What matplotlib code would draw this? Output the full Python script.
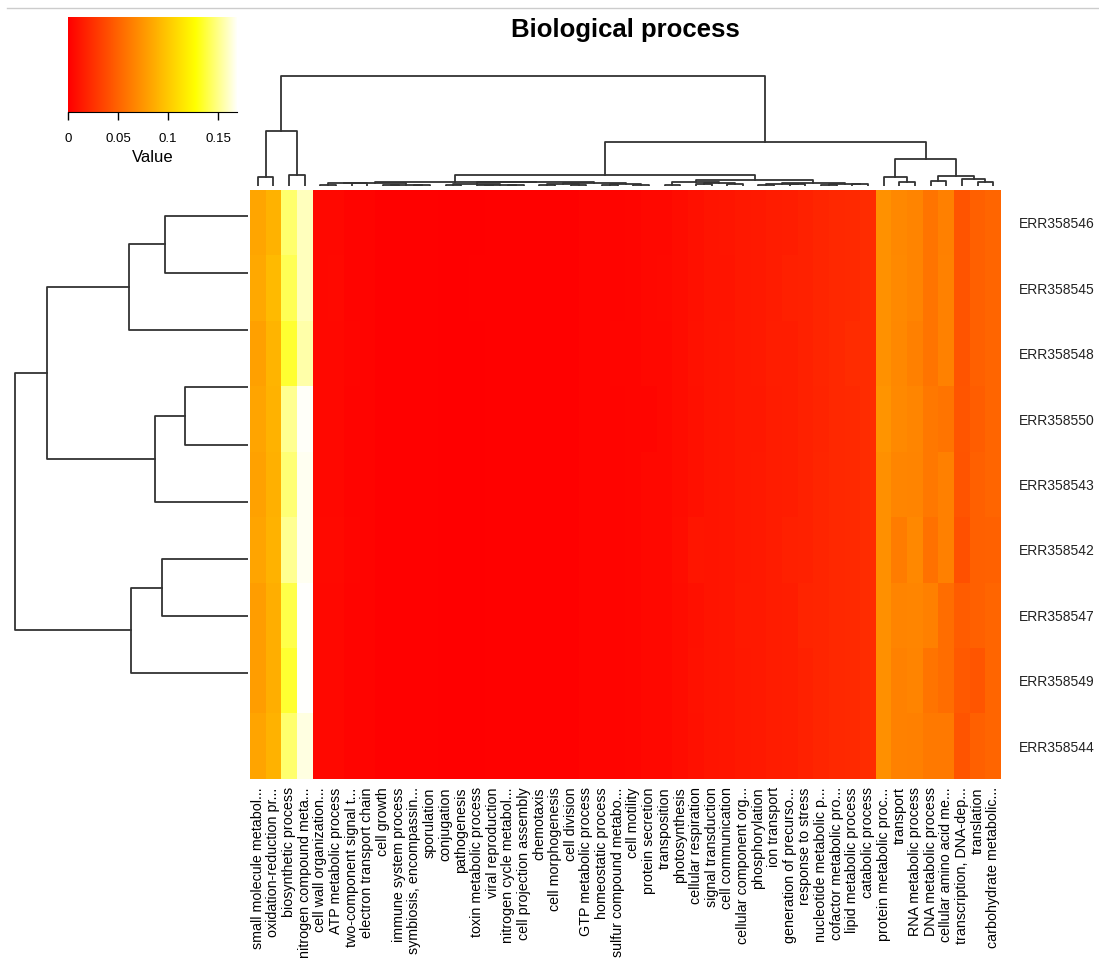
import matplotlib
matplotlib.use("Agg")
import matplotlib.pyplot as plt
import numpy as np
from matplotlib.colors import ListedColormap

plt.rcParams['font.family'] = ['Liberation Sans', 'DejaVu Sans']

# sample names (rows, top to bottom) and GO terms (columns, left to right)
samples = ['ERR358546', 'ERR358545', 'ERR358548', 'ERR358550', 'ERR358543',
           'ERR358542', 'ERR358547', 'ERR358549', 'ERR358544']

terms = ['small molecule metabol...', 'oxidation-reduction pr...', 'biosynthetic process',
         'nitrogen compound meta...', 'cell wall organization...', 'ATP metabolic process',
         'two-component signal t...', 'electron transport chain', 'cell growth',
         'immune system process', 'symbiosis, encompassin...', 'sporulation',
         'conjugation', 'pathogenesis', 'toxin metabolic process', 'viral reproduction',
         'nitrogen cycle metabol...', 'cell projection assembly', 'chemotaxis',
         'cell morphogenesis', 'cell division', 'GTP metabolic process',
         'homeostatic process', 'sulfur compound metabo...', 'cell motility',
         'protein secretion', 'transposition', 'photosynthesis', 'cellular respiration',
         'signal transduction', 'cell communication', 'cellular component org...',
         'phosphorylation', 'ion transport', 'generation of precurso...',
         'response to stress', 'nucleotide metabolic p...', 'cofactor metabolic pro...',
         'lipid metabolic process', 'catabolic process', 'protein metabolic proc...',
         'transport', 'RNA metabolic process', 'DNA metabolic process',
         'cellular amino acid me...', 'transcription, DNA-dep...', 'translation',
         'carbohydrate metabolic...']

# relative abundance, one list per sample
r546 = [0.083, 0.089, 0.146, 0.159, 0.004, 0.004, 0.002, 0.002, 0.001, 0.001, 0.001, 0.001,
        0.000, 0.000, 0.000, 0.001, 0.001, 0.001, 0.001, 0.001, 0.001, 0.002, 0.002, 0.002,
        0.003, 0.004, 0.004, 0.006, 0.008, 0.010, 0.011, 0.012, 0.013, 0.014, 0.015, 0.017,
        0.019, 0.020, 0.021, 0.022, 0.073, 0.068, 0.066, 0.058, 0.064, 0.042, 0.048, 0.051]
r545 = [0.084, 0.093, 0.142, 0.159, 0.004, 0.005, 0.002, 0.002, 0.001, 0.001, 0.001, 0.001,
        0.000, 0.000, 0.001, 0.001, 0.001, 0.001, 0.001, 0.001, 0.001, 0.002, 0.002, 0.002,
        0.003, 0.004, 0.005, 0.006, 0.008, 0.010, 0.010, 0.012, 0.013, 0.014, 0.016, 0.017,
        0.019, 0.020, 0.021, 0.022, 0.073, 0.069, 0.066, 0.058, 0.065, 0.042, 0.048, 0.051]
r548 = [0.080, 0.090, 0.136, 0.156, 0.004, 0.004, 0.003, 0.002, 0.001, 0.001, 0.001, 0.001,
        0.000, 0.000, 0.000, 0.001, 0.001, 0.001, 0.001, 0.001, 0.001, 0.002, 0.002, 0.003,
        0.003, 0.004, 0.004, 0.006, 0.009, 0.010, 0.011, 0.012, 0.013, 0.015, 0.015, 0.017,
        0.019, 0.020, 0.022, 0.022, 0.073, 0.068, 0.064, 0.058, 0.065, 0.042, 0.048, 0.051]
r550 = [0.082, 0.089, 0.152, 0.169, 0.004, 0.004, 0.002, 0.002, 0.001, 0.001, 0.001, 0.001,
        0.000, 0.000, 0.000, 0.001, 0.001, 0.001, 0.001, 0.001, 0.001, 0.002, 0.002, 0.002,
        0.003, 0.003, 0.004, 0.006, 0.008, 0.010, 0.011, 0.012, 0.012, 0.014, 0.015, 0.017,
        0.018, 0.020, 0.021, 0.022, 0.074, 0.069, 0.067, 0.060, 0.058, 0.043, 0.047, 0.051]
r543 = [0.081, 0.088, 0.147, 0.168, 0.004, 0.004, 0.002, 0.002, 0.001, 0.001, 0.001, 0.001,
        0.000, 0.000, 0.000, 0.001, 0.001, 0.001, 0.001, 0.001, 0.001, 0.002, 0.002, 0.002,
        0.003, 0.004, 0.004, 0.006, 0.008, 0.010, 0.011, 0.012, 0.013, 0.014, 0.015, 0.017,
        0.019, 0.020, 0.021, 0.022, 0.072, 0.067, 0.066, 0.060, 0.064, 0.042, 0.048, 0.051]
r542 = [0.082, 0.089, 0.152, 0.168, 0.005, 0.005, 0.003, 0.002, 0.001, 0.001, 0.001, 0.001,
        0.000, 0.000, 0.000, 0.001, 0.001, 0.001, 0.001, 0.001, 0.001, 0.002, 0.002, 0.002,
        0.003, 0.004, 0.004, 0.007, 0.011, 0.010, 0.011, 0.012, 0.013, 0.014, 0.016, 0.017,
        0.019, 0.020, 0.021, 0.022, 0.072, 0.062, 0.068, 0.057, 0.064, 0.040, 0.048, 0.049]
r547 = [0.079, 0.087, 0.140, 0.170, 0.004, 0.004, 0.002, 0.002, 0.001, 0.001, 0.001, 0.001,
        0.000, 0.000, 0.000, 0.001, 0.001, 0.001, 0.001, 0.001, 0.001, 0.002, 0.002, 0.002,
        0.003, 0.004, 0.004, 0.006, 0.008, 0.010, 0.011, 0.013, 0.013, 0.014, 0.015, 0.018,
        0.019, 0.020, 0.021, 0.022, 0.072, 0.066, 0.067, 0.064, 0.055, 0.046, 0.048, 0.051]
r549 = [0.079, 0.087, 0.136, 0.170, 0.004, 0.004, 0.002, 0.002, 0.001, 0.001, 0.001, 0.001,
        0.000, 0.000, 0.000, 0.001, 0.001, 0.001, 0.001, 0.001, 0.001, 0.002, 0.002, 0.002,
        0.003, 0.004, 0.004, 0.006, 0.009, 0.010, 0.011, 0.012, 0.013, 0.014, 0.015, 0.017,
        0.019, 0.020, 0.021, 0.022, 0.072, 0.065, 0.066, 0.058, 0.055, 0.045, 0.043, 0.051]
r544 = [0.082, 0.089, 0.146, 0.165, 0.004, 0.004, 0.002, 0.002, 0.001, 0.001, 0.001, 0.001,
        0.000, 0.000, 0.000, 0.001, 0.001, 0.001, 0.001, 0.001, 0.001, 0.002, 0.002, 0.002,
        0.003, 0.004, 0.004, 0.006, 0.008, 0.010, 0.011, 0.012, 0.013, 0.014, 0.015, 0.017,
        0.019, 0.020, 0.021, 0.022, 0.072, 0.065, 0.064, 0.061, 0.061, 0.042, 0.048, 0.051]

vmax = 0.17

# column dendrogram pieces: (left, right, height), leaves are column indices
grp_a = (((4, 5, 1.2), (6, 7, 2.6), 3.0), ((8, 9, 0.8), (10, 11, 1.0), 1.4), 3.5)
grp_b1 = ((12, 13, 1.0), ((14, 15, 0.6), (16, 17, 0.8), 1.2), 1.8)
grp_b2 = (((18, 19, 0.7), (20, 21, 0.9), 1.6), ((22, 23, 1.0), (24, 25, 1.3), 2.0), 2.6)
grp_l = (grp_a, (grp_b1, grp_b2, 3.8), 4.2)
grp_r1 = ((26, 27, 1.5), ((28, 29, 1.8), (30, 31, 2.2), 3.0), 3.8)
grp_r2 = (((32, 33, 1.4), (34, 35, 2.0), 2.4), ((36, 37, 1.2), (38, 39, 1.6), 2.2), 2.8)
grp_red = (grp_l, (grp_r1, grp_r2, 6.5), 11)
grp_orange = ((40, (41, 42, 4), 9), ((43, 44, 5), (45, (46, 47, 4), 7), 10), 27)
grp_left = ((0, 1, 9), (2, 3, 11), 55)
col_tree = (grp_left, (grp_red, grp_orange, 44), 110)

# row dendrogram, leaves are row indices
row_tree = ((((0, 1, 83), 2, 119), ((3, 4, 63), 5, 93), 201),
            ((6, 7, 86), 8, 117),
            233)


def draw_tree(ax, node, vertical=True):
    # returns (position, height) of node, draws its links
    if isinstance(node, int):
        return node + 0.5, 0
    l, r, h = node
    pl, hl = draw_tree(ax, l, vertical)
    pr, hr = draw_tree(ax, r, vertical)
    if vertical:
        ax.plot([pl, pl, pr, pr], [hl, h, h, hr], color='#333333', lw=1.3)
    else:
        ax.plot([hl, h, h, hr], [pl, pl, pr, pr], color='#333333', lw=1.3)
    return (pl + pr) / 2, h


# R heat.colors palette
n = 256
j = n // 4
i = n - j
cols = [(1, k / (i - 1), 0) for k in range(i)]
for s in np.linspace(1 - 1 / (2 * j), 1 / (2 * j), j):
    cols.append((1, 1, 1 - s))
heat = ListedColormap(cols)

W, H = 1099, 969
fig = plt.figure(figsize=(W / 100, H / 100), dpi=100)


def box(x0, y0, x1, y1):
    return [x0 / W, 1 - y1 / H, (x1 - x0) / W, (y1 - y0) / H]


data = np.array([r546, r545, r548, r550, r543, r542, r547, r549, r544])

# heatmap
ax = fig.add_axes(box(250, 190, 1001, 779))
ax.imshow(data, cmap=heat, vmin=0, vmax=vmax, aspect='auto', interpolation='nearest',
          extent=[0, len(terms), len(samples), 0])
ax.set_xticks(np.arange(len(terms)) + 0.5)
ax.set_xticklabels(terms, rotation=90, fontsize=10.3)
ax.yaxis.tick_right()
ax.set_yticks(np.arange(len(samples)) + 0.5)
ax.set_yticklabels(samples, fontsize=10, color='#222222')
ax.tick_params(length=0)
ax.tick_params(axis='x', pad=6)
ax.tick_params(axis='y', pad=13)
for sp in ax.spines.values():
    sp.set_visible(False)

# column dendrogram
axc = fig.add_axes(box(250, 70, 1001, 186))
draw_tree(axc, col_tree, vertical=True)
axc.set_xlim(0, len(terms))
axc.set_ylim(0, 116)
axc.axis('off')

# row dendrogram
axr = fig.add_axes(box(10, 187, 248, 702))
draw_tree(axr, row_tree, vertical=False)
axr.set_xlim(238, 0)
axr.set_ylim(len(samples), 0)
axr.axis('off')

# colour key
axk = fig.add_axes(box(68, 17, 237, 112))
axk.imshow(np.linspace(0, 0.169, 256)[None, :], cmap=heat, vmin=0, vmax=vmax,
           aspect='auto', extent=[0, 0.169, 0, 1])
axk.set_xlim(0, 0.169)
axk.set_yticks([])
axk.set_xticks([0, 0.05, 0.1, 0.15])
axk.set_xticklabels(['0', '0.05', '0.1', '0.15'], fontsize=9.5)
axk.tick_params(axis='x', length=6, width=1, pad=9)
axk.set_xlabel('Value', fontsize=12, labelpad=4)
for s in ['top', 'left', 'right']:
    axk.spines[s].set_visible(False)

fig.text(625 / W, 1 - 30 / H, 'Biological process', fontsize=18.5, fontweight='bold',
         ha='center', va='center')
fig.add_artist(plt.Line2D([7 / W, 1], [1 - 8 / H, 1 - 8 / H], color='#cccccc', lw=1))

plt.savefig('out.png', dpi=100)
